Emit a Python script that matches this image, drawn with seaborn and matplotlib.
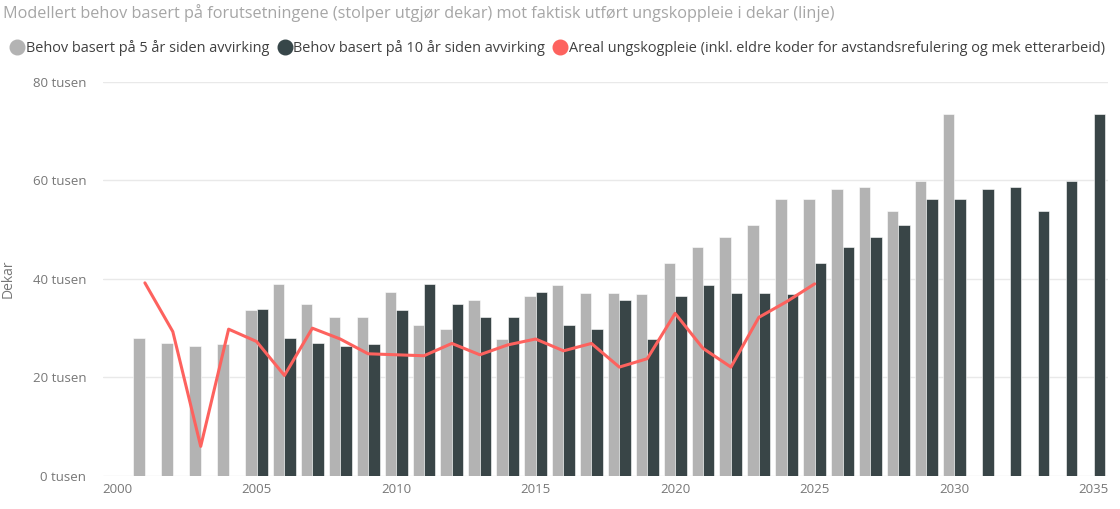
import seaborn as sns
import matplotlib.pyplot as plt
import pandas as pd
from matplotlib.lines import Line2D
from matplotlib.ticker import FuncFormatter

sns.set_theme(style="white")
plt.rcParams['font.family'] = ['Open Sans', 'DejaVu Sans']

# behov (tusen dekar), 5 år siden avvirking
years_5 = list(range(2001, 2031))
behov_5 = [28.0, 27.0, 26.4, 26.7, 33.6, 39.0, 34.9, 32.3, 32.2, 37.3,
           30.6, 29.8, 35.8, 27.8, 36.5, 38.8, 37.2, 37.1, 37.0, 43.2,
           46.4, 48.6, 50.9, 56.3, 56.3, 58.3, 58.7, 53.8, 59.9, 73.4]

# behov (tusen dekar), 10 år siden avvirking
years_10 = list(range(2005, 2036))
behov_10 = [33.9, 28.0, 27.0, 26.4, 26.7, 33.6, 39.0, 34.9, 32.3, 32.2,
            37.3, 30.6, 29.8, 35.8, 27.8, 36.5, 38.8, 37.2, 37.1, 37.0,
            43.2, 46.4, 48.6, 50.9, 56.3, 56.3, 58.3, 58.7, 53.8, 59.9, 73.4]

# utført ungskogpleie (tusen dekar)
years_line = list(range(2001, 2026))
areal = [39.2, 29.3, 6.0, 29.8, 27.3, 20.4, 30.0, 27.8, 24.8, 24.6,
         24.4, 26.9, 24.6, 26.6, 27.8, 25.4, 26.9, 22.1, 23.8, 33.0,
         25.9, 22.1, 32.2, 35.4, 39.0]

lab5 = "Behov basert på 5 år siden avvirking"
lab10 = "Behov basert på 10 år siden avvirking"
lab_line = "Areal ungskogpleie (inkl. eldre koder for avstandsrefulering og mek etterarbeid)"

grey = "#B3B3B3"
dark = "#374649"
red = "#FD625E"

bars = pd.concat([
    pd.DataFrame({"år": years_5, "dekar": behov_5, "serie": lab5}),
    pd.DataFrame({"år": years_10, "dekar": behov_10, "serie": lab10}),
])
line = pd.DataFrame({"år": years_line, "dekar": areal})

fig = plt.figure(figsize=(11.2, 5.09), dpi=100)
ax = fig.add_axes([0.092, 0.065, 0.897, 0.774])

sns.barplot(data=bars, x="år", y="dekar", hue="serie", native_scale=True,
            palette={lab5: grey, lab10: dark}, width=0.82, gap=0,
            edgecolor="white", linewidth=0.4, legend=False, ax=ax)
sns.lineplot(data=line, x="år", y="dekar", color=red, linewidth=2.2, ax=ax)

ax.set_xlim(1999.5, 2035.5)
ax.set_ylim(0, 80)
ax.set_xticks(range(2000, 2036, 5))
ax.set_yticks(range(0, 81, 20))
ax.yaxis.set_major_formatter(FuncFormatter(lambda v, p: f"{v:.0f} tusen"))
ax.grid(axis="y", color="#E9E9E9", linewidth=1)
ax.set_axisbelow(True)
sns.despine(ax=ax, left=True, bottom=True)
ax.tick_params(axis="both", length=0, colors="#777777", labelsize=9.5)
ax.tick_params(axis="y", pad=12)
ax.tick_params(axis="x", pad=5)
ax.set_xlabel("")
ax.set_ylabel("Dekar", color="#777777", fontsize=10, labelpad=12)

fig.text(0.003, 0.975, "Modellert behov basert på forutsetningene (stolper utgjør dekar) mot faktisk utført ungskoppleie i dekar (linje)",
         color="#A6A6A6", fontsize=11.7, va="center", ha="left")

handles = [Line2D([], [], marker="o", linestyle="", color=c, markersize=10.5)
           for c in (grey, dark, red)]
fig.legend(handles, [lab5, lab10, lab_line], loc="center left",
           bbox_to_anchor=(-0.004, 0.905), ncol=3, frameon=False,
           handletextpad=0.0, columnspacing=0.45, handlelength=1.2,
           fontsize=10.45, labelcolor="#404040")

fig.savefig("out.png", dpi=100)
